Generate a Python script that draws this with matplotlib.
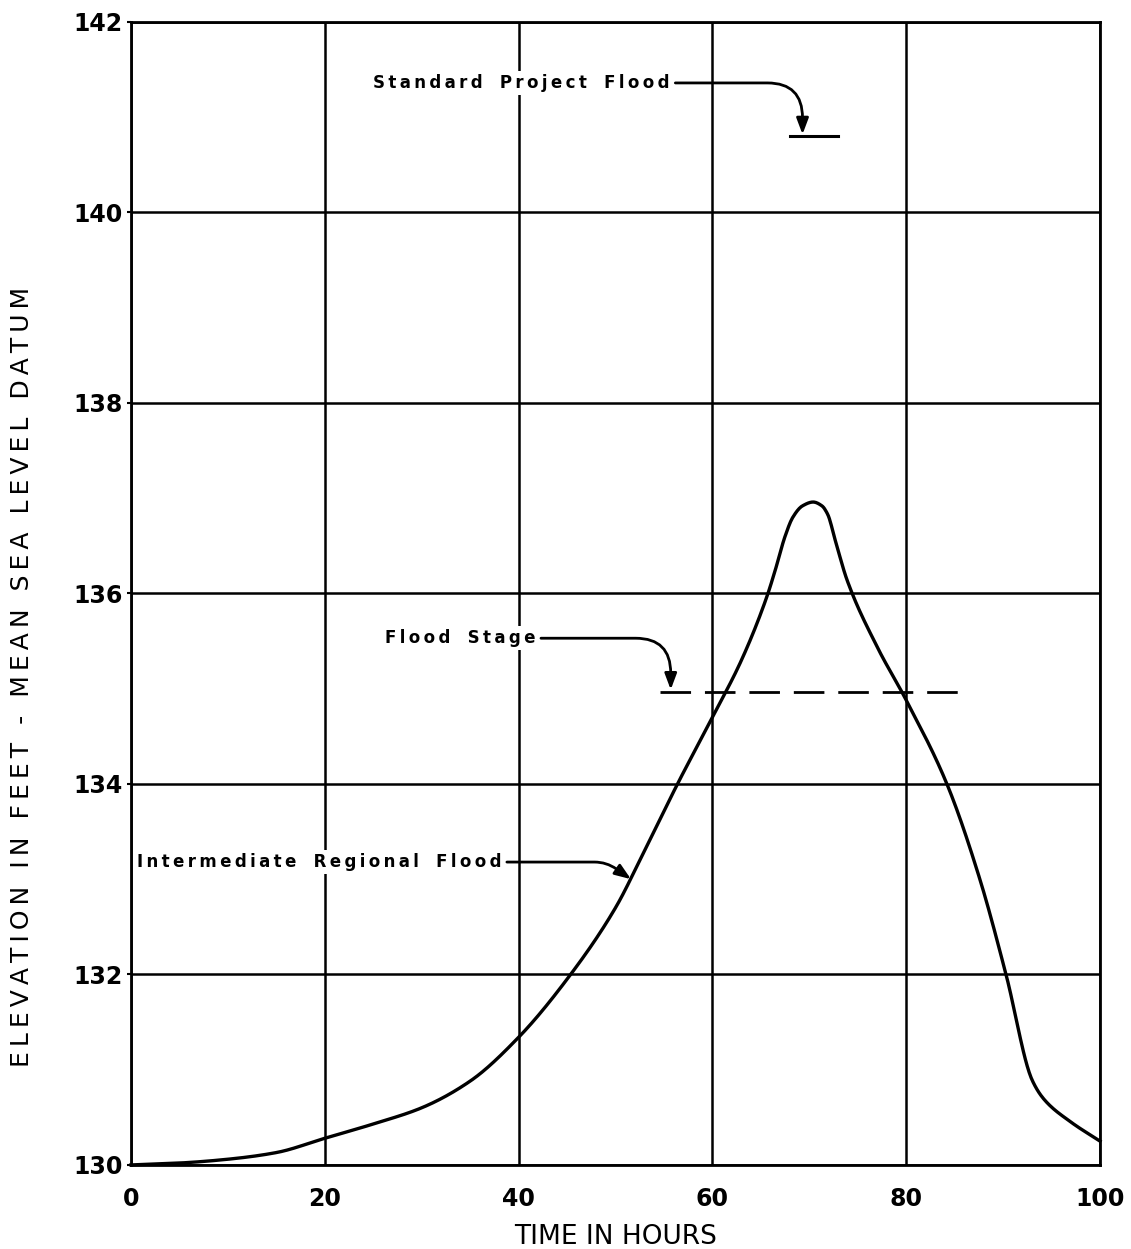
import matplotlib
matplotlib.use("Agg")
import matplotlib.pyplot as plt
import numpy as np

# ---- data ----
hours = [0, 5, 10, 15, 20, 25, 30, 35, 40, 45, 50, 53, 56.4, 60, 63, 65.6, 66.5, 67.5, 68.3, 69.3,
         70.4, 71.3, 71.9, 72.7, 73.9, 77, 80, 84.2, 87.6, 90.3, 93, 94.3, 97, 100]
elev = [130.0, 130.02, 130.06, 130.13, 130.28, 130.43, 130.6, 130.88, 131.34, 131.95, 132.7, 133.3,
        134.0, 134.7, 135.3, 135.96, 136.25, 136.6, 136.8, 136.92, 136.96, 136.92, 136.83, 136.55,
        136.14, 135.44, 134.88, 134.0, 133.0, 132.0, 130.89, 130.68, 130.45, 130.25]
flood_stage = 134.97
flood_stage_range = [54.6, 86.0]
spf_level = 140.8
spf_range = [68.0, 73.0]
x_ticks = [0, 20, 40, 60, 80, 100]
y_ticks = [130, 132, 134, 136, 138, 140, 142]

TS = '\u2009'  # thin space for letter spacing


def spaced(s, sep=TS):
    words = s.split(' ')
    return '   '.join(sep.join(w) for w in words)


def pchip(x, y, xn):
    x = np.asarray(x, float); y = np.asarray(y, float)
    h = np.diff(x); d = np.diff(y) / h
    m = np.zeros_like(y)
    for k in range(1, len(x) - 1):
        if d[k-1] * d[k] <= 0:
            m[k] = 0
        else:
            w1 = 2*h[k] + h[k-1]; w2 = h[k] + 2*h[k-1]
            m[k] = (w1 + w2) / (w1/d[k-1] + w2/d[k])
    m[0] = d[0]; m[-1] = d[-1]
    idx = np.clip(np.searchsorted(x, xn) - 1, 0, len(h) - 1)
    t = (xn - x[idx]) / h[idx]
    h00 = 2*t**3 - 3*t**2 + 1; h10 = t**3 - 2*t**2 + t
    h01 = -2*t**3 + 3*t**2; h11 = t**3 - t**2
    return h00*y[idx] + h10*h[idx]*m[idx] + h01*y[idx+1] + h11*h[idx]*m[idx+1]


fig = plt.figure(figsize=(11.31, 12.49), dpi=100)
ax = fig.add_axes([0.1158, 0.0673, 0.8568, 0.9151])
ax.set_xlim(0, 100)
ax.set_ylim(130, 142)

ax.set_xticks(x_ticks)
ax.set_yticks(y_ticks)
ax.set_xticklabels([str(v) for v in x_ticks], fontsize=17, fontweight='bold')
ax.set_yticklabels([str(v) for v in y_ticks], fontsize=17, fontweight='bold')
ax.tick_params(axis='x', length=0, pad=16)
ax.tick_params(axis='y', length=3, width=1.5, pad=3)
ax.grid(True, color='black', linewidth=1.8)
ax.set_axisbelow(True)
for s in ax.spines.values():
    s.set_linewidth(2)

tt = np.linspace(hours[0], hours[-1], 1000)
ax.plot(tt, pchip(hours, elev, tt), color='black', linewidth=2.4, zorder=3, clip_on=False)

# flood stage dashed line
ax.plot(flood_stage_range, [flood_stage]*2, color='black', linewidth=2, dashes=(11, 5), zorder=3)
# standard project flood bar
ax.plot(spf_range, [spf_level]*2, color='black', linewidth=2.2, zorder=3)

lbl = dict(fontsize=12, fontweight='bold', family=['DejaVu Sans'], va='center', ha='left',
           bbox=dict(facecolor='white', edgecolor='none', pad=2), zorder=4)
arrow = dict(arrowstyle='-|>,head_length=0.8,head_width=0.3', color='black', lw=2,
             shrinkA=2, shrinkB=0)

ax.annotate(spaced('Standard Project Flood'), xy=(69.3, spf_level + 0.02), xytext=(25.0, 141.36),
            arrowprops=dict(connectionstyle='angle,angleA=0,angleB=90,rad=35', **arrow), **lbl)
ax.annotate(spaced('Flood Stage'), xy=(55.7, flood_stage + 0.02), xytext=(26.2, 135.53),
            arrowprops=dict(connectionstyle='angle,angleA=0,angleB=90,rad=35', **arrow), **lbl)
ax.annotate(spaced('Intermediate Regional Flood'), xy=(51.6, 133.0), xytext=(0.6, 133.18),
            arrowprops=dict(connectionstyle='angle,angleA=0,angleB=-35,rad=12', **arrow), **lbl)

ax.set_xlabel('TIME IN HOURS', fontsize=19)
ax.xaxis.set_label_coords(0.5, -0.052)
ax.set_ylabel(TS.join('ELEVATION IN FEET - MEAN SEA LEVEL DATUM'), fontsize=18)
ax.yaxis.set_label_coords(-0.1, 0.427)

fig.savefig('out.png', dpi=100, facecolor='white')
